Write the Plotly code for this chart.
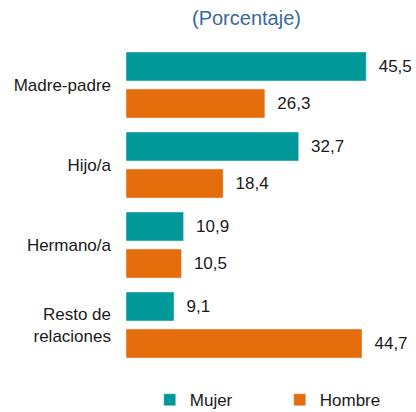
import plotly.graph_objects as go

categorias = ["Madre-padre", "Hijo/a", "Hermano/a", "Resto de<br>relaciones"]
mujer = [45.5, 32.7, 10.9, 9.1]
hombre = [26.3, 18.4, 10.5, 44.7]

fig = go.Figure()
fig.add_trace(go.Bar(y=categorias, x=mujer, name="Mujer", orientation="h",
                     marker_color="#009999",
                     text=mujer, texttemplate="\u00a0\u00a0%{x:.1f}",
                     textposition="outside", cliponaxis=False,
                     textfont=dict(size=17, color="#1a1a1a")))
fig.add_trace(go.Bar(y=categorias, x=hombre, name="Hombre", orientation="h",
                     marker_color="#E46C0A",
                     text=hombre, texttemplate="\u00a0\u00a0%{x:.1f}",
                     textposition="outside", cliponaxis=False,
                     textfont=dict(size=17, color="#1a1a1a")))

fig.update_layout(
    width=416, height=412,
    margin=dict(l=126, r=26, t=45, b=47, autoexpand=False),
    barmode="group", bargap=0.075, bargroupgap=0.216,
    separators=",.",
    plot_bgcolor="white", paper_bgcolor="white",
    font=dict(family="Liberation Sans, Arial", size=17, color="#1a1a1a"),
    showlegend=True,
    legend=dict(orientation="h", x=0.09, xanchor="left", y=-0.11, yanchor="middle",
                entrywidth=85, entrywidthmode="pixels",
                font=dict(size=17), traceorder="normal"),
    annotations=[dict(text="(Porcentaje)", xref="paper", yref="paper",
                      x=0.455, y=1.0, yshift=27, xanchor="center", yanchor="middle",
                      showarrow=False, font=dict(size=20, color="#3a6a96"))],
)
fig.update_xaxes(range=[0, 50], visible=False, showgrid=False)
fig.update_yaxes(autorange="reversed", showgrid=False, showline=False,
                 ticks="", ticklabelstandoff=14, tickfont=dict(size=17))

# la página trae margen de 8px en el body; se quita para que cuadre con la ventana
fig.write_html("out.html", config={"displayModeBar": False},
               post_script="document.body.style.margin='0';")
